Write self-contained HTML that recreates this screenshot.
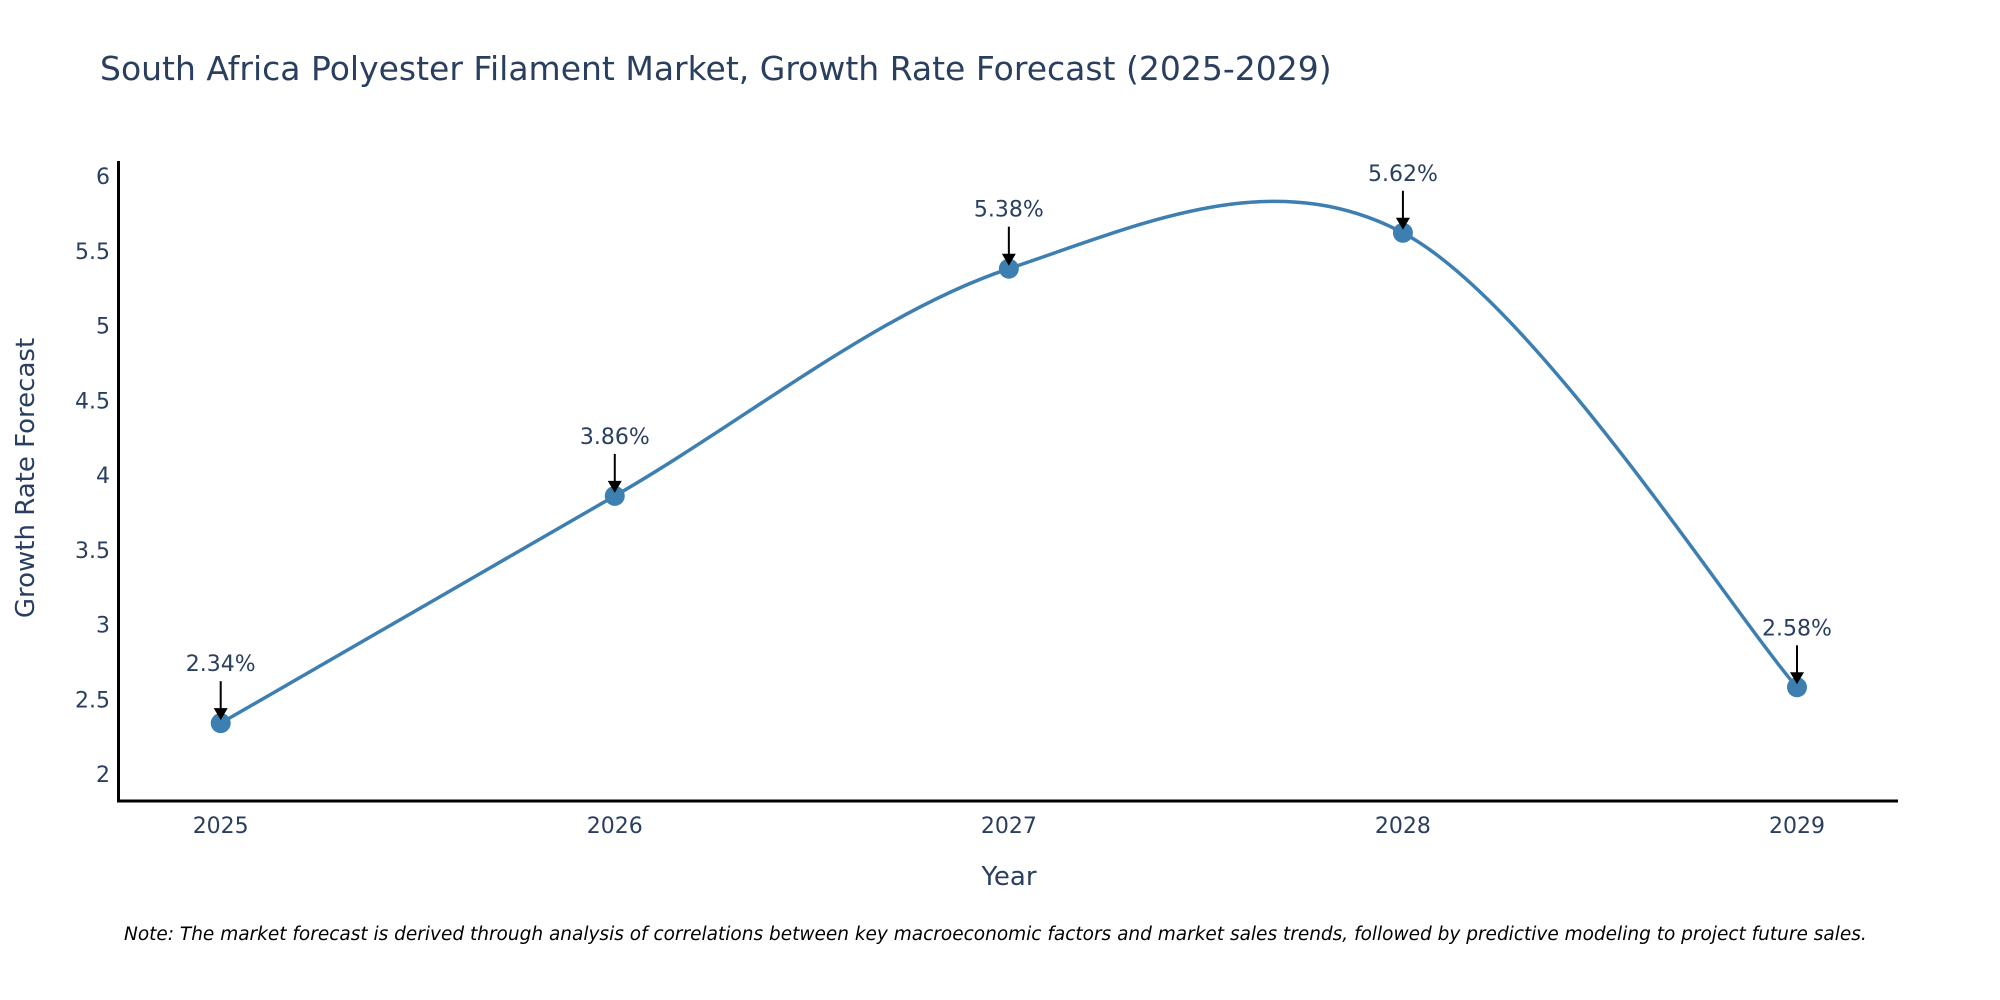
<!DOCTYPE html>
<html><head><meta charset="utf-8">
<style>
html,body{margin:0;padding:0;background:#fff;overflow:hidden;}
svg{display:block;font-family:"DejaVu Sans","Liberation Sans",sans-serif;}
</style></head>
<body>
<svg id="chart" width="2000" height="1000" viewBox="0 0 2000 1000">
<text x="100" y="80" font-size="33" fill="#2a3f5f">South Africa Polyester Filament Market, Growth Rate Forecast (2025-2029)</text>
<g id="yticks"></g>
<g id="xticks"></g>
<path id="line" fill="none" stroke="#3d7fb0" stroke-width="3.5"></path>
<g id="points"></g>
<g id="annots"></g>
<line x1="118.5" y1="161" x2="118.5" y2="802" stroke="#000" stroke-width="3"/>
<line x1="117" y1="801" x2="1898" y2="801" stroke="#000" stroke-width="3"/>
<text x="1009" y="885" font-size="26" fill="#2a3f5f" text-anchor="middle">Year</text>
<text transform="translate(34,478) rotate(-90)" font-size="26" fill="#2a3f5f" text-anchor="middle">Growth Rate Forecast</text>
<text x="124" y="940" font-size="18.5" font-style="italic" fill="#000">Note: The market forecast is derived through analysis of correlations between key macroeconomic factors and market sales trends, followed by predictive modeling to project future sales.</text>
</svg>
<script>
const years = [2025, 2026, 2027, 2028, 2029];
const values = [2.34, 3.86, 5.38, 5.62, 2.58];
const labels = ["2.34%", "3.86%", "5.38%", "5.62%", "2.58%"];
const yTicks = [2, 2.5, 3, 3.5, 4, 4.5, 5, 5.5, 6];
const yTickLabels = ["2", "2.5", "3", "3.5", "4", "4.5", "5", "5.5", "6"];

const NS = "http://www.w3.org/2000/svg";
function xs(v){ return 220.7 + (v - 2025) * (1797 - 220.7) / 4; }
function ys(v){ return 774 - (v - 2) * (774 - 176) / 4; }
function mk(tag, attrs){ const e = document.createElementNS(NS, tag); for (const k in attrs) e.setAttribute(k, attrs[k]); return e; }

const yg = document.getElementById('yticks');
yTicks.forEach((t, i) => {
  const tx = mk('text', {x: 110, y: ys(t) + 8, 'font-size': 22, fill: '#2a3f5f', 'text-anchor': 'end'});
  
  
  tx.textContent = yTickLabels[i];
  yg.appendChild(tx);
});
const xg = document.getElementById('xticks');
years.forEach(y => {
  const tx = mk('text', {x: xs(y), y: 833, 'font-size': 22, fill: '#2a3f5f', 'text-anchor': 'middle'});
  
  
  tx.textContent = String(y);
  xg.appendChild(tx);
});

const pts = years.map((y, i) => [xs(y), ys(values[i])]);
let d = 'M' + pts[0][0] + ',' + pts[0][1];
const k = 1 / 6;
for (let i = 0; i < pts.length - 1; i++) {
  const p0 = pts[Math.max(i - 1, 0)], p1 = pts[i], p2 = pts[i + 1], p3 = pts[Math.min(i + 2, pts.length - 1)];
  const c1 = [p1[0] + (p2[0] - p0[0]) * k, p1[1] + (p2[1] - p0[1]) * k];
  const c2 = [p2[0] - (p3[0] - p1[0]) * k, p2[1] - (p3[1] - p1[1]) * k];
  d += ' C' + c1[0] + ',' + c1[1] + ' ' + c2[0] + ',' + c2[1] + ' ' + p2[0] + ',' + p2[1];
}
document.getElementById('line').setAttribute('d', d);

const pg = document.getElementById('points');
const ag = document.getElementById('annots');
pts.forEach((p, i) => {
  const c = mk('circle', {cx: p[0], cy: p[1], r: 10, fill: '#3d7fb0'});
  
  
  pg.appendChild(c);
  const ln = mk('line', {x1: p[0], y1: p[1] - 42, x2: p[0], y2: p[1] - 14, stroke: '#000', 'stroke-width': 2});
  
  
  ag.appendChild(ln);
  const hd = mk('polygon', {points: (p[0]-7)+','+(p[1]-15)+' '+(p[0]+7)+','+(p[1]-15)+' '+p[0]+','+(p[1]-3), fill: '#000'});
  
  
  ag.appendChild(hd);
  const tx = mk('text', {x: p[0], y: p[1] - 52, 'font-size': 22, fill: '#2a3f5f', 'text-anchor': 'middle'});
  
  
  tx.textContent = labels[i];
  ag.appendChild(tx);
});
</script>
</body></html>
